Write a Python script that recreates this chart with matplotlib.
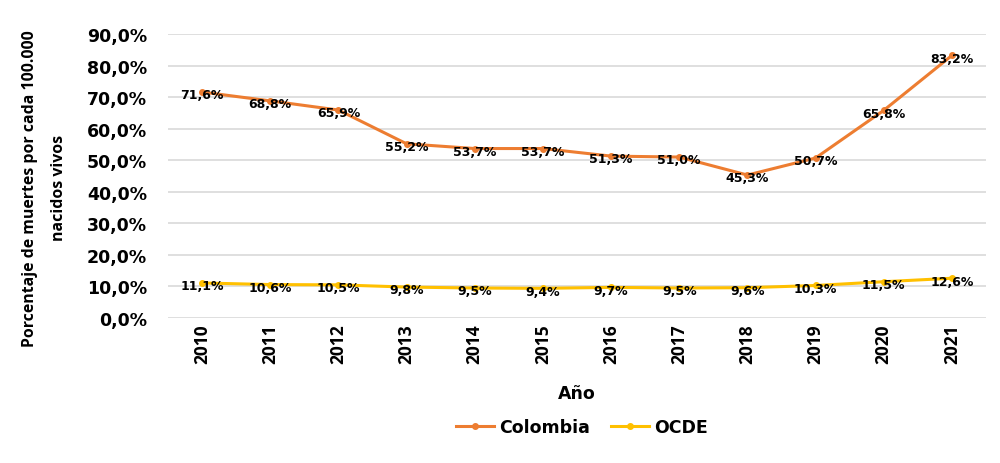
import matplotlib
matplotlib.use('Agg')
import matplotlib.pyplot as plt
from matplotlib import font_manager

years = ['2010', '2011', '2012', '2013', '2014', '2015', '2016', '2017', '2018', '2019', '2020', '2021']
colombia = [71.6, 68.8, 65.9, 55.2, 53.7, 53.7, 51.3, 51.0, 45.3, 50.7, 65.8, 83.2]
ocde = [11.1, 10.6, 10.5, 9.8, 9.5, 9.4, 9.7, 9.5, 9.6, 10.3, 11.5, 12.6]

names = {f.name for f in font_manager.fontManager.ttflist}
narrow = 'Liberation Sans Narrow' if 'Liberation Sans Narrow' in names else 'Open Sans'

fig = plt.figure(figsize=(10, 4.64), dpi=100)
ax = fig.add_axes([0.168, 0.3125, 0.818, 0.6121])

x = list(range(len(years)))
ax.plot(x, colombia, color='#ED7D31', linewidth=2.2, marker='o', markersize=4, label='Colombia', zorder=3)
ax.plot(x, ocde, color='#FFC000', linewidth=2.2, marker='o', markersize=4, label='OCDE', zorder=3)

def fmt(v):
    return f'{v:.1f}%'.replace('.', ',')

for xi, v in zip(x, colombia):
    ax.annotate(fmt(v), (xi, v), xytext=(0, -2), textcoords='offset points',
                ha='center', va='center', fontsize=9, fontweight='bold', family='DejaVu Sans', zorder=4)
for xi, v in zip(x, ocde):
    ax.annotate(fmt(v), (xi, v), xytext=(0, -2), textcoords='offset points',
                ha='center', va='center', fontsize=9, fontweight='bold', family='DejaVu Sans', zorder=4)

ax.set_xlim(-0.5, len(years) - 0.5)
ax.set_ylim(0, 90)
ax.set_yticks(range(0, 91, 10))
ax.set_yticklabels([f'{t},0%' for t in range(0, 91, 10)], fontsize=12.5, fontweight='bold', family='DejaVu Sans')
ax.set_xticks(x)
ax.set_xticklabels(years, rotation=90, fontsize=12.5, fontweight='bold', family=narrow)
ax.tick_params(axis='y', length=0, pad=15)
ax.tick_params(axis='x', length=0, pad=4)
ax.yaxis.grid(True, color='#D9D9D9', linewidth=1.2)
ax.set_axisbelow(True)
for s in ax.spines.values():
    s.set_visible(False)

ax.set_xlabel('Año', fontsize=12.5, fontweight='bold', family='DejaVu Sans', labelpad=15)
ax.set_ylabel('Porcentaje de muertes por cada 100.000\nnacidos vivos', fontsize=11.4,
              family=narrow, fontweight='bold', linespacing=2.1)
ax.yaxis.set_label_coords(-0.123, 0.46)

fig.legend(loc='center', bbox_to_anchor=(0.582, 0.077), ncol=2, frameon=False,
           prop={'weight': 'bold', 'size': 12.5, 'family': 'DejaVu Sans'},
           handlelength=2.2, columnspacing=1.2, handletextpad=0.3)

fig.savefig('out.png', dpi=100)
